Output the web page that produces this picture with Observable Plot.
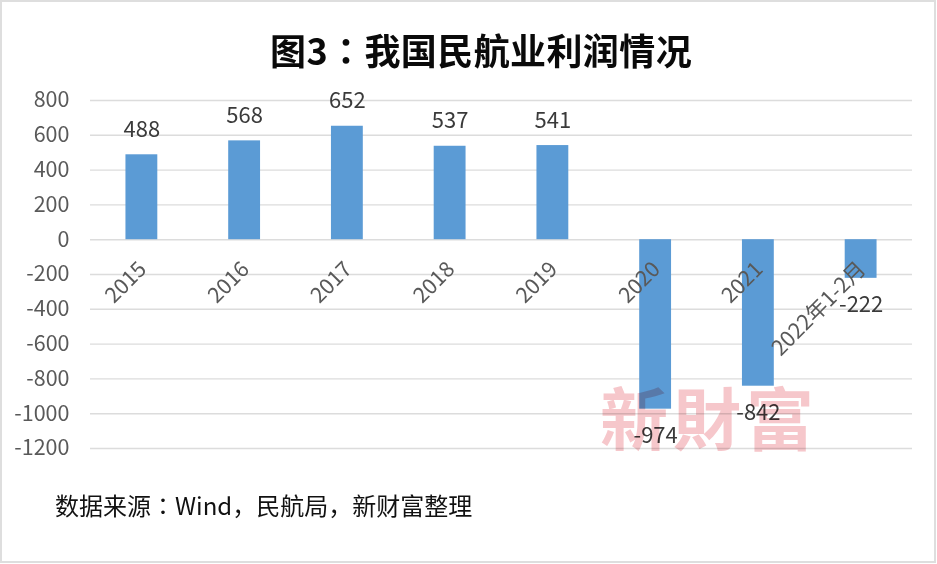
<!DOCTYPE html>
<html><head><meta charset="utf-8">
<script src="https://cdn.jsdelivr.net/npm/d3@7"></script>
<script src="https://cdn.jsdelivr.net/npm/@observablehq/plot@0.6"></script>
<style>
html,body{margin:0;padding:0;background:#fff;}
body{width:937px;height:564px;overflow:hidden;font-family:"Noto Sans CJK SC","Noto Sans",sans-serif;}
#box{position:relative;box-sizing:border-box;width:936px;height:563px;border:2px solid #dedede;}
#title{position:absolute;left:-2px;top:-2px;width:936px;box-sizing:border-box;padding:26px 0 0 270px;font-size:36px;line-height:46px;font-weight:700;color:#0a0a0a;white-space:pre;letter-spacing:.4px;}
#chart{position:absolute;left:-2px;top:66px;width:937px;}
#caption{position:absolute;left:53px;top:485px;font-size:24px;line-height:36px;color:#111;white-space:pre;}
#mark{position:absolute;left:598px;top:372px;font-size:68px;line-height:84px;font-weight:700;letter-spacing:5px;color:rgba(236,130,140,.45);mix-blend-mode:multiply;white-space:pre;font-family:"Noto Sans CJK TC",serif;}
.p{font-family:"Noto Sans CJK TC",sans-serif;}
.k{font-family:"Noto Sans CJK KR",sans-serif;display:inline-block;width:24px;text-align:center;}
svg{display:block;background:transparent;overflow:visible;max-width:none !important;}
</style></head><body>
<div id="box">
<div id="title">图3<span class="p">：</span>我国民航业利润情况</div>
<div id="chart"></div>
<div id="mark">新財富</div>
<div id="caption">数据来源<span class="p">：</span>Wind<span class="k">，</span>民航局<span class="k">，</span>新财富整理</div>
</div>
<script>
const categories=["2015","2016","2017","2018","2019","2020","2021","2022年1-2月"];
const values=[488,568,652,537,541,-974,-842,-222];
const yTicks=[800,600,400,200,0,-200,-400,-600,-800,-1000,-1200];
const rows=categories.map((c,i)=>({c,v:values[i]}));
const font='"Noto Sans CJK SC","Noto Sans",sans-serif';
const plot=Plot.plot({
  width:937,height:402,marginTop:32,marginBottom:22,marginLeft:90,marginRight:25,
  style:{fontFamily:font,background:"transparent",overflow:"visible"},
  x:{domain:categories,paddingInner:0.69,paddingOuter:0.345,round:false,axis:null},
  y:{domain:[-1200,800],axis:null},
  marks:[
    Plot.ruleY(yTicks,{stroke:"#dcdcdc",strokeWidth:1.4}),
    Plot.barY(rows,{x:"c",y:"v",fill:"#5b9bd5"}),
    Plot.axisY(yTicks,{anchor:"left",tickSize:0,tickPadding:21,tickFormat:d=>String(d),fontSize:21.5,fill:"#595959",label:null}),
    Plot.text(rows,{x:"c",y:()=>0,text:"c",rotate:-45,textAnchor:"end",dx:1,dy:26,fontSize:21.5,fill:"#595959"}),
    Plot.text(rows,{x:"c",y:"v",text:d=>String(d.v),fontSize:22,fill:"#3a3a3a",
      render(index,scales,values,dims,ctx,next){
        const g=next(index,scales,values,dims,ctx);
        d3.select(g).selectAll("text").attr("dy",(i)=>rows[i].v<0?"27":"-25");
        return g;
      }})
  ]
});
document.getElementById("chart").appendChild(plot);
</script>
</body></html>
